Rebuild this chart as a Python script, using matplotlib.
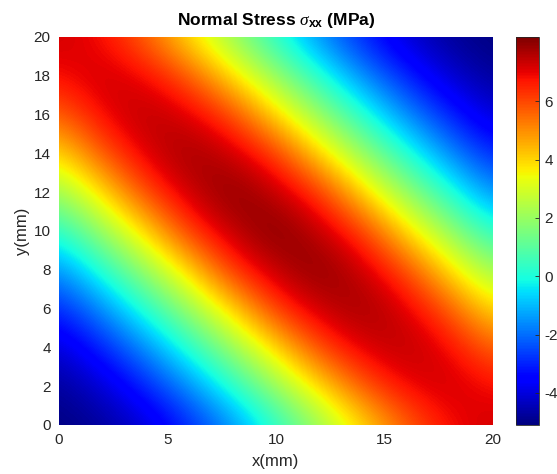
import numpy as np
import matplotlib
matplotlib.use("Agg")
import matplotlib.pyplot as plt

plt.rcParams["font.family"] = ["Liberation Sans", "DejaVu Sans"]
plt.rcParams["axes.unicode_minus"] = False
plt.rcParams["mathtext.fontset"] = "custom"
plt.rcParams["mathtext.it"] = "Liberation Serif:italic"
plt.rcParams["mathtext.rm"] = "Liberation Sans"
plt.rcParams["mathtext.bf"] = "Liberation Sans:bold"

# grid nodes (mm)
x_mm = [0, 2, 4, 6, 8, 10, 12, 14, 16, 18, 20]
y_mm = [0, 2, 4, 6, 8, 10, 12, 14, 16, 18, 20]

# sigma_xx (MPa), one row per y node, bottom row first
sigma_xx = [
    [-5.10, -4.80, -4.15, -3.00, -1.60, 0.15, 2.00, 3.84, 5.58, 6.82, 7.25],
    [-4.80, -4.15, -3.00, -1.60, 0.15, 2.00, 3.90, 5.78, 6.95, 7.34, 6.82],
    [-4.15, -3.00, -1.60, 0.15, 2.00, 3.96, 6.02, 7.18, 7.58, 6.95, 5.58],
    [-3.00, -1.60, 0.15, 2.00, 4.00, 6.22, 7.40, 7.87, 7.18, 5.78, 3.84],
    [-1.60, 0.15, 2.00, 4.00, 6.30, 7.53, 8.11, 7.40, 6.02, 3.90, 2.00],
    [0.15, 2.00, 3.96, 6.22, 7.53, 8.20, 7.53, 6.22, 3.96, 2.00, 0.15],
    [2.00, 3.90, 6.02, 7.40, 8.11, 7.53, 6.30, 4.00, 2.00, 0.15, -1.60],
    [3.84, 5.78, 7.18, 7.87, 7.40, 6.22, 4.00, 2.00, 0.15, -1.60, -3.00],
    [5.58, 6.95, 7.58, 7.18, 6.02, 3.96, 2.00, 0.15, -1.60, -3.00, -4.15],
    [6.82, 7.34, 6.95, 5.78, 3.90, 2.00, 0.15, -1.60, -3.00, -4.15, -4.80],
    [7.25, 6.82, 5.58, 3.84, 2.00, 0.15, -1.60, -3.00, -4.15, -4.80, -5.10],
]

cbar_ticks = [-4, -2, 0, 2, 4, 6]

Z = np.array(sigma_xx)
dx = (x_mm[1] - x_mm[0]) / 2
dy = (y_mm[1] - y_mm[0]) / 2

fig = plt.figure(figsize=(5.57, 4.74), dpi=100)
ax = fig.add_axes([59 / 557, 49 / 474, 434 / 557, 388 / 474])
cax = fig.add_axes([516 / 557, 49 / 474, 23 / 557, 388 / 474])

im = ax.imshow(Z, origin="lower", cmap="jet", aspect="auto",
               extent=[x_mm[0] - dx, x_mm[-1] + dx, y_mm[0] - dy, y_mm[-1] + dy],
               interpolation="bicubic", interpolation_stage="data")
ax.set_xlim(x_mm[0], x_mm[-1])
ax.set_ylim(y_mm[0], y_mm[-1])
ax.set_xticks([0, 5, 10, 15, 20])
ax.set_yticks(y_mm)

tc = "#262626"
ax.tick_params(direction="in", length=0, labelsize=11, colors=tc, pad=6)
for sp in ax.spines.values():
    sp.set_visible(False)

ax.set_xlabel("x(mm)", fontsize=12, color=tc, labelpad=5)
ax.set_ylabel("y(mm)", fontsize=12, color=tc, labelpad=3)
ax.set_title(r"Normal Stress $\sigma_{\mathbf{xx}}$ (MPa)", fontsize=12.5,
             fontweight="bold", pad=9)

cb = fig.colorbar(im, cax=cax)
cb.set_ticks(cbar_ticks)
cb.ax.tick_params(direction="in", length=3, width=0.6, labelsize=11,
                  colors=tc, pad=4)
cb.outline.set_linewidth(0.6)
cb.outline.set_edgecolor(tc)

fig.savefig("out.png", dpi=100)
